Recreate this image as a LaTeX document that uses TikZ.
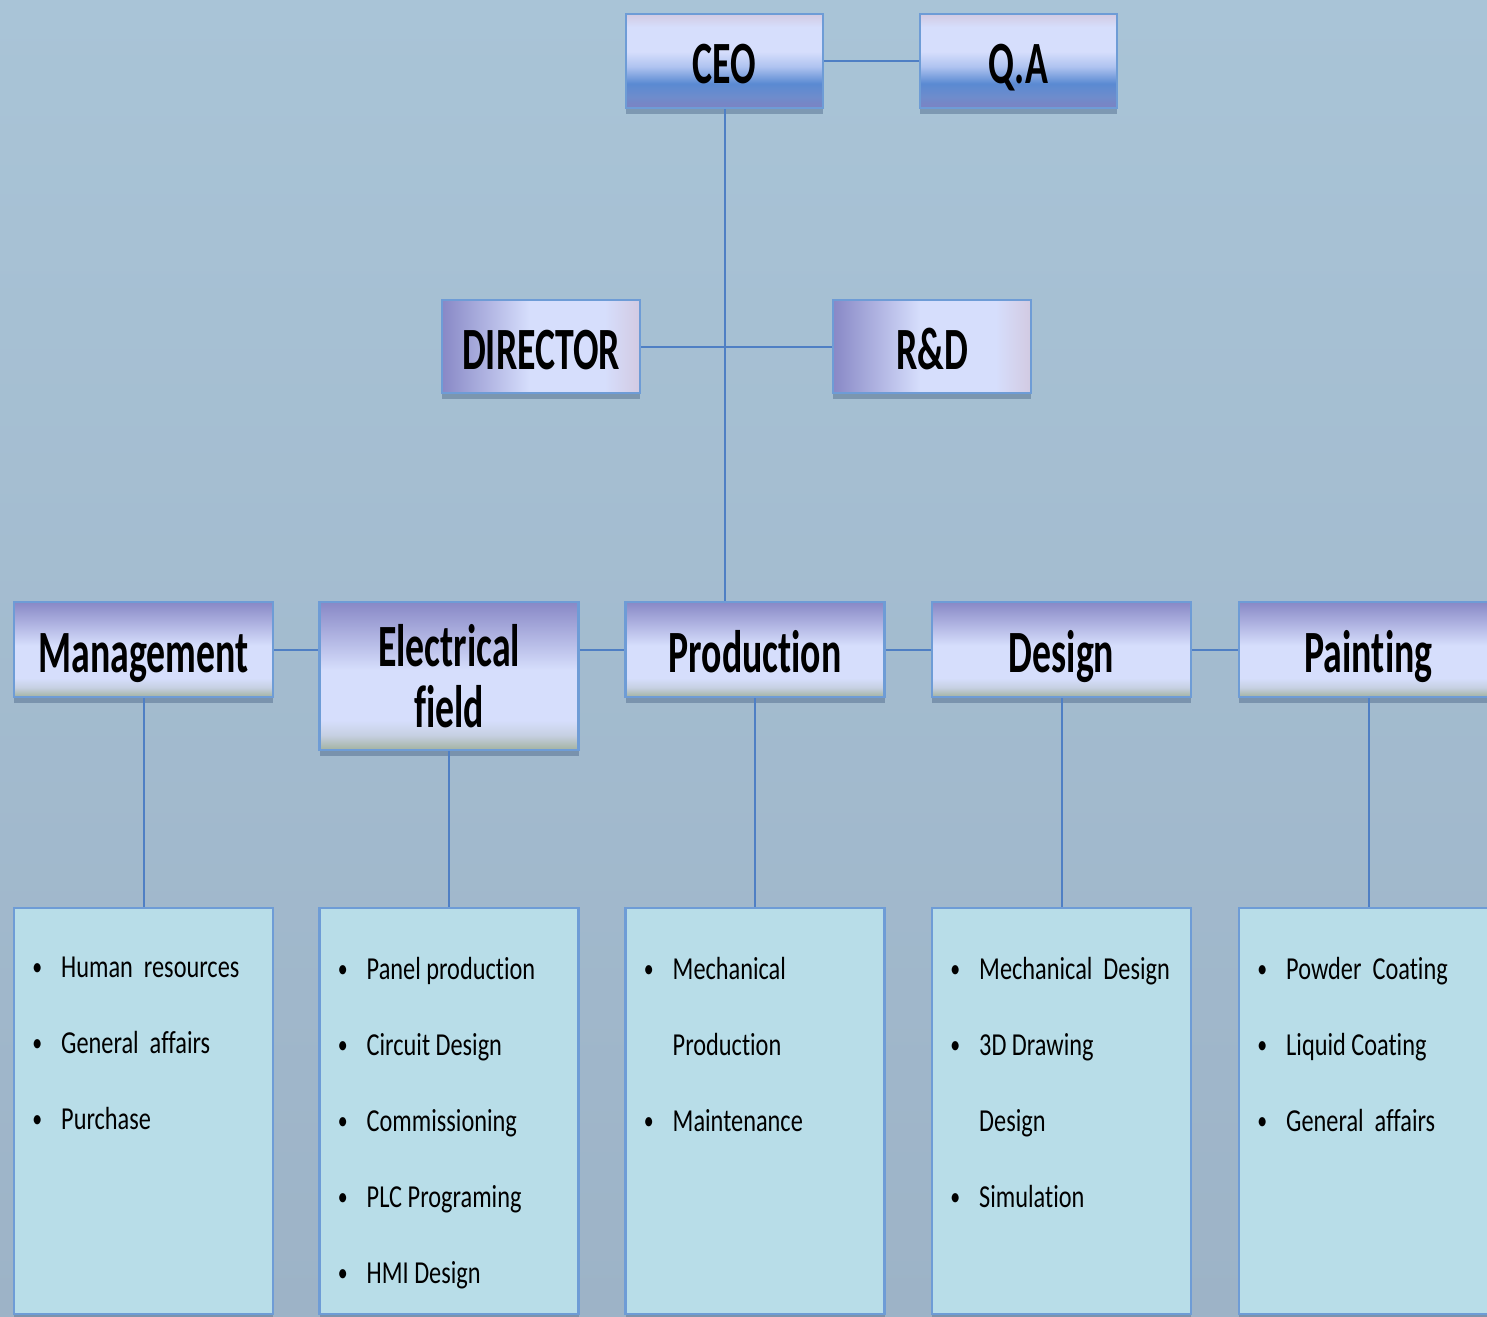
\documentclass[tikz,border=0pt]{standalone}
\usepackage{fontspec}
\setmainfont{Carlito}[Ligatures=CommonOff]
\newfontfamily\headfont{Carlito}[FakeStretch=0.63, Ligatures=CommonOff]
\newfontfamily\listfont{Carlito}[FakeStretch=0.76, Ligatures=CommonOff]
\usetikzlibrary{shadows}
\definecolor{bgtop}{HTML}{A9C4D7}
\definecolor{bgbot}{HTML}{9DB3C7}
\definecolor{lnblue}{HTML}{4F7FC4}
\definecolor{edgeblue}{HTML}{6E9CD6}
\definecolor{boxlight}{HTML}{D6DEFC}
\definecolor{boxlav}{HTML}{D2CAE2}
\definecolor{boxpurp}{HTML}{8888C6}
\definecolor{boxblue}{HTML}{5A8AD2}
\definecolor{boxgreen}{HTML}{A2B2A0}
\definecolor{boxmid}{HTML}{C6D0E2}
\definecolor{ceobot}{HTML}{7C82C2}
\definecolor{ceoa}{HTML}{6E8CCC}
\definecolor{ceob}{HTML}{AFC3F0}
\definecolor{listfill}{HTML}{B8DDE8}
\definecolor{shadowcol}{HTML}{2E4A70}
\pgfdeclareverticalshading{ceoshade}{100bp}{color(0bp)=(ceobot); color(25bp)=(ceobot); color(31bp)=(ceoa); color(38bp)=(boxblue); color(47bp)=(ceob); color(55bp)=(boxlight); color(68bp)=(boxlight); color(75bp)=(boxlav); color(100bp)=(boxlav)}
\pgfdeclareverticalshading{deptshade}{100bp}{color(0bp)=(boxgreen); color(25bp)=(boxgreen); color(30bp)=(boxmid); color(35bp)=(boxlight); color(52bp)=(boxlight); color(75bp)=(boxpurp); color(100bp)=(boxpurp)}
\pgfdeclarehorizontalshading{dirshade}{100bp}{color(0bp)=(boxpurp); color(25bp)=(boxpurp); color(47bp)=(boxlight); color(66bp)=(boxlight); color(75bp)=(boxlav); color(100bp)=(boxlav)}
\tikzset{
  boxbase/.style={draw=edgeblue, line width=1.2pt, shade, inner sep=0pt, align=center,
    drop shadow={shadow xshift=0pt, shadow yshift=-3pt, opacity=0.35, fill=shadowcol},
    font=\headfont\bfseries\fontsize{30}{30.5}\selectfont},
  oneline/.style={text height=23pt, text depth=0pt},
  topbox/.style={boxbase, oneline, shading=ceoshade, minimum width=98.5pt, minimum height=47pt},
  midbox/.style={boxbase, oneline, shading=dirshade, minimum width=99pt, minimum height=46.5pt},
  deptbox/.style={boxbase, shading=deptshade, minimum width=129.5pt, minimum height=47.5pt},
  listbox/.style={draw=edgeblue, line width=1.2pt, fill=listfill, inner sep=0pt,
    drop shadow={shadow xshift=0pt, shadow yshift=-3pt, opacity=0.3, fill=shadowcol},
    minimum width=129.5pt, minimum height=203pt},
  listtext/.style={font=\listfont\fontsize{16}{38}\selectfont, align=left, anchor=north west,
    inner sep=0pt, xshift=11pt, yshift=-25pt},
  conn/.style={draw=lnblue, line width=1pt}
}
\newcommand{\itm}[1]{\makebox[13pt][l]{\hspace{-1.4pt}\raisebox{1.2pt}{\fontsize{13}{13}\selectfont\textbullet}}#1}
\newcommand{\cnt}[1]{\makebox[13pt][l]{}#1}
\begin{document}
\begin{tikzpicture}[x=0.5pt,y=-0.5pt]
\useasboundingbox (0,0) rectangle (1487,1316);
\clip (0,0) rectangle (1487,1316);
\fill[top color=bgtop, bottom color=bgbot] (0,0) rectangle (1487,1316);

% top level
\node[topbox] (ceo) at (724.5,61) {CEO};
\node[topbox] (qa) at (1018.5,61) {Q.A};
\node[midbox] (dir) at (541,346.5) {DIRECTOR};
\node[midbox] (rd) at (932,346.5) {R\&D};

% departments
\node[deptbox, oneline] (mgmt) at (143.5,649.5) {Management};
\node[deptbox, minimum height=74pt] (elec) at (449,676) {Electrical\\field};
\node[deptbox, oneline] (prod) at (755,649.5) {Production};
\node[deptbox, oneline] (des) at (1061.5,649.5) {Design};
\node[deptbox, oneline] (paint) at (1368.5,649.5) {Painting};

% lists
\node[listbox] (mlist) at (143.5,1111) {};
\node[listbox] (elist) at (449,1111) {};
\node[listbox] (plist) at (755,1111) {};
\node[listbox] (dlist) at (1061.5,1111) {};
\node[listbox] (palist) at (1368.5,1111) {};

\node[listtext] (mtext) at (mlist.north west) {\itm{Human\ \ resources}\\ \itm{General\ \ affairs}\\ \itm{Purchase}};
\node[listtext] (etext) at (elist.north west) {\itm{Panel production}\\ \itm{Circuit Design}\\ \itm{Commissioning}\\ \itm{PLC Programing}\\ \itm{HMI Design}};
\node[listtext] (ptext) at (plist.north west) {\itm{Mechanical}\\ \cnt{Production}\\ \itm{Maintenance}};
\node[listtext] (dtext) at (dlist.north west) {\itm{Mechanical\ \ Design}\\ \itm{3D Drawing}\\ \cnt{Design}\\ \itm{Simulation}};
\node[listtext] (patext) at (palist.north west) {\itm{Powder\ \ Coating}\\ \itm{Liquid Coating}\\ \itm{General\ \ affairs}};

% connectors
\draw[conn] (ceo.east) -- (qa.west);
\draw[conn] (ceo.south) -- (ceo.south |- prod.north);
\draw[conn] (dir.east) -- (rd.west);
\draw[conn] (mgmt.east) -- (mgmt.east -| elec.west);
\draw[conn] (prod.west -| elec.east) -- (prod.west);
\draw[conn] (prod.east) -- (des.west);
\draw[conn] (des.east) -- (paint.west);
\draw[conn] (mgmt.south) -- (mlist.north);
\draw[conn] (elec.south) -- (elist.north);
\draw[conn] (prod.south) -- (plist.north);
\draw[conn] (des.south) -- (dlist.north);
\draw[conn] (paint.south) -- (palist.north);
\end{tikzpicture}
\end{document}
